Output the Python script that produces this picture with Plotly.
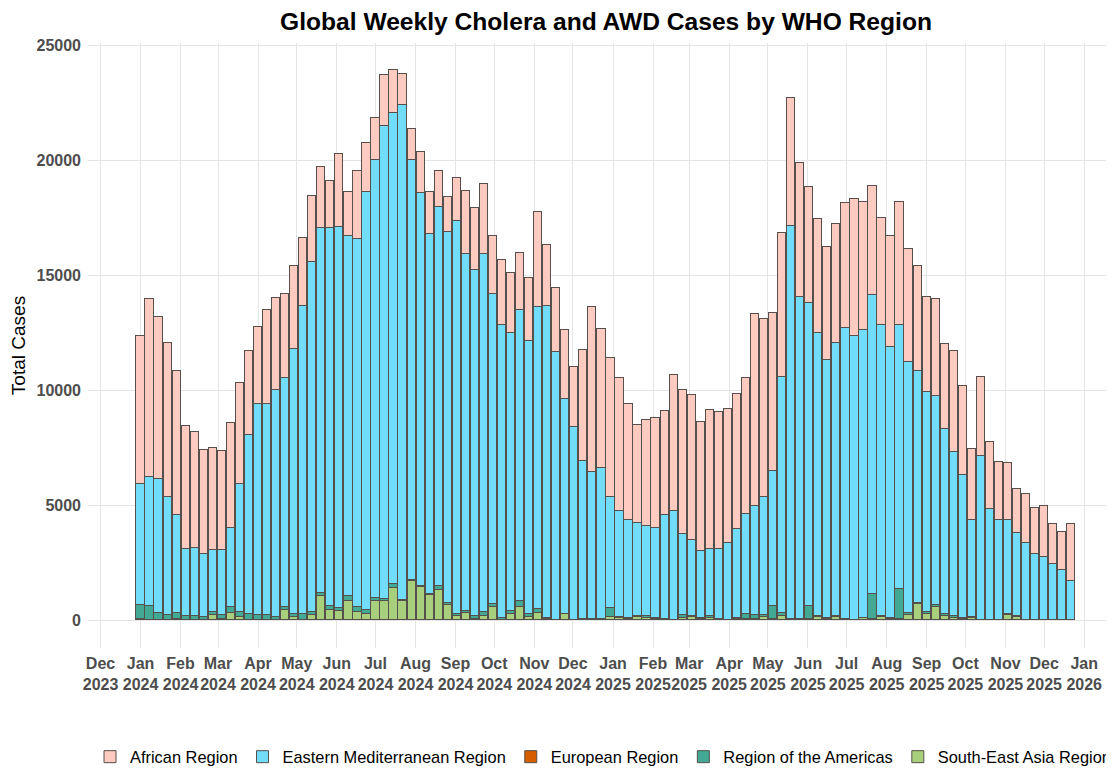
import pandas as pd
import plotly.graph_objects as go

week_start = "2024-01-01"
n_weeks = 104

african = [6410, 7760, 7010, 6680, 6270, 5330, 5030, 4540, 4410, 4300,
           4540, 4380, 3670, 3330, 4060, 3980, 3630, 3620, 2980, 2860,
           2650, 2030, 3170, 1920, 2950, 2130, 1810, 2210, 1870, 1350,
           1350, 1790, 1810, 1570, 1520, 1860, 2710, 2680, 3050, 2520,
           2810, 2630, 2490, 2760, 4130, 2670, 2780, 3000, 2590, 4810,
           7170, 6050, 6080, 5760, 5030, 4250, 4600, 4760, 4490, 5890,
           6250, 6290, 5600, 6030, 5950, 5790, 5860, 5890, 8350, 7760,
           6870, 6220, 5550, 5820, 5050, 4940, 4890, 5160, 5430, 5980,
           5550, 4710, 4650, 4810, 5330, 4920, 4560, 4100, 4210, 3730,
           4380, 3870, 3100, 3430, 2940, 2540, 2460, 1920, 2110, 1980,
           2210, 1750, 1680, 2490]

eastern_med = [5255, 5584, 5825, 5134, 4253, 2923, 2970, 2743, 2717, 2833,
               3451, 5589, 7756, 9210, 9210, 9885, 9958, 11517, 13387, 15206,
               15873, 16437, 16572, 15668, 15988, 18166, 19027, 20546, 20449, 21510,
               18228, 17090, 15647, 16503, 16117, 17088, 15529, 15047, 15556, 13463,
               12723, 12068, 12650, 11851, 13109, 13577, 11629, 9356, 8391, 6875,
               6399, 6558, 4812, 4601, 4270, 4034, 3924, 3921, 4530, 4757,
               3515, 3304, 2914, 2921, 3037, 3360, 3867, 4344, 4766, 5102,
               5882, 10297, 17068, 13989, 13182, 12303, 11230, 11858, 12638, 12317,
               12501, 12997, 12652, 11793, 11478, 10917, 10116, 9602, 9108, 8039,
               7142, 6216, 4205, 7127, 4824, 4364, 4074, 3635, 3380, 2888,
               2761, 2444, 2174, 1714]

european = [0] * 104

americas = [630, 607, 303, 216, 263, 168, 168, 125, 145, 186,
            247, 217, 260, 187, 187, 115, 116, 145, 231, 145,
            160, 159, 145, 202, 218, 160, 145, 102, 174, 58,
            58, 29, 43, 145, 101, 116, 101, 116, 174, 145,
            86, 116, 260, 145, 174, 15, 20, 0, 20, 60,
            60, 30, 391, 60, 38, 58, 54, 38, 12, 20,
            130, 58, 21, 58, 18, 20, 56, 218, 145, 101,
            537, 116, 32, 32, 537, 58, 41, 58, 18, 10,
            16, 1101, 58, 38, 1319, 73, 43, 58, 72, 58,
            58, 76, 43, 10, 0, 0, 44, 44, 0, 0,
            0, 0, 0, 0]

south_east_asia = [50, 30, 30, 30, 70, 20, 20, 20, 217, 60,
                   333, 145, 30, 30, 30, 30, 464, 145, 30, 217,
                   1043, 464, 391, 841, 362, 290, 840, 840, 1420, 840,
                   1710, 1449, 1116, 1333, 652, 174, 319, 72, 188, 580,
                   30, 290, 580, 145, 333, 72, 0, 261, 0, 0,
                   0, 30, 145, 100, 72, 145, 116, 72, 60, 0,
                   116, 145, 80, 116, 40, 0, 60, 72, 72, 145,
                   72, 188, 40, 40, 72, 145, 60, 145, 40, 20,
                   100, 58, 145, 72, 58, 246, 696, 290, 580, 203,
                   116, 40, 116, 20, 0, 0, 246, 130, 0, 0,
                   0, 0, 0, 0]

tick_dates = ["2023-12-01", "2024-01-01", "2024-02-01", "2024-03-01", "2024-04-01",
              "2024-05-01", "2024-06-01", "2024-07-01", "2024-08-01", "2024-09-01",
              "2024-10-01", "2024-11-01", "2024-12-01", "2025-01-01", "2025-02-01",
              "2025-03-01", "2025-04-01", "2025-05-01", "2025-06-01", "2025-07-01",
              "2025-08-01", "2025-09-01", "2025-10-01", "2025-11-01", "2025-12-01",
              "2026-01-01"]
tick_labels = ["Dec<br>2023", "Jan<br>2024", "Feb<br>2024", "Mar<br>2024", "Apr<br>2024",
               "May<br>2024", "Jun<br>2024", "Jul<br>2024", "Aug<br>2024", "Sep<br>2024",
               "Oct<br>2024", "Nov<br>2024", "Dec<br>2024", "Jan<br>2025", "Feb<br>2025",
               "Mar<br>2025", "Apr<br>2025", "May<br>2025", "Jun<br>2025", "Jul<br>2025",
               "Aug<br>2025", "Sep<br>2025", "Oct<br>2025", "Nov<br>2025", "Dec<br>2025",
               "Jan<br>2026"]
y_ticks = [0, 5000, 10000, 15000, 20000, 25000]

weeks = pd.date_range(week_start, periods=n_weeks, freq="7D")

series = [
    ("South-East Asia Region", south_east_asia, "#A8CF7C", 5),
    ("Region of the Americas", americas, "#42AA94", 4),
    ("European Region", european, "#D55E00", 3),
    ("Eastern Mediterranean Region", eastern_med, "#72DDFA", 2),
    ("African Region", african, "#FFCBC0", 1),
]

FONT = "Liberation Sans, Arial, sans-serif"
W, H = 1106, 760  # page adds an 8px body margin

fig = go.Figure()
for name, vals, color, rank in series:
    fig.add_trace(go.Bar(
        x=weeks, y=vals, name=name, legendrank=rank,
        width=6.4 * 86400000,
        marker=dict(color=color, line=dict(color="#55504B", width=1)),
    ))

fig.update_layout(
    barmode="stack",
    width=W, height=H,
    paper_bgcolor="white", plot_bgcolor="white",
    margin=dict(l=80, r=4, t=35, b=120, autoexpand=False),
    font=dict(family=FONT, color="#4D4D4D"),
    title=dict(text="<b>Global Weekly Cholera and AWD Cases by WHO Region</b>",
               x=598 / W, xref="container", xanchor="center",
               y=1 - 13 / H, yref="container", yanchor="middle",
               font=dict(size=24.6, color="black")),
    showlegend=True,
    legend=dict(orientation="h", xref="container", x=82 / W, xanchor="left",
                yref="container", y=11 / H, yanchor="middle",
                font=dict(size=16.4, color="black"), traceorder="normal",
                itemwidth=30, tracegroupgap=0),
    bargap=0,
)
fig.update_xaxes(
    type="date", range=["2023-11-21 07:00", "2026-01-21"],
    tickvals=tick_dates,
    ticktext=["<b>" + t.replace("<br>", "</b><br><b>") + "</b>" for t in tick_labels],
    tickangle=0, ticklabelstandoff=4,
    tickfont=dict(size=16, color="#4D4D4D", family=FONT),
    showgrid=True, gridcolor="#E5E5E5", gridwidth=1.3,
    zeroline=False, showline=False, ticks="", ticklen=0,
)
fig.update_yaxes(
    range=[-1200, 25100], tickvals=y_ticks,
    ticktext=["<b>" + str(v) + "</b>" for v in y_ticks],
    ticklabelstandoff=6,
    tickfont=dict(size=16, color="#4D4D4D", family=FONT),
    title=dict(text="Total Cases", font=dict(size=19, color="black"), standoff=6),
    showgrid=True, gridcolor="#E5E5E5", gridwidth=1.3,
    zeroline=False, showline=False, ticks="", ticklen=0,
)

fig.write_html("out.html")
